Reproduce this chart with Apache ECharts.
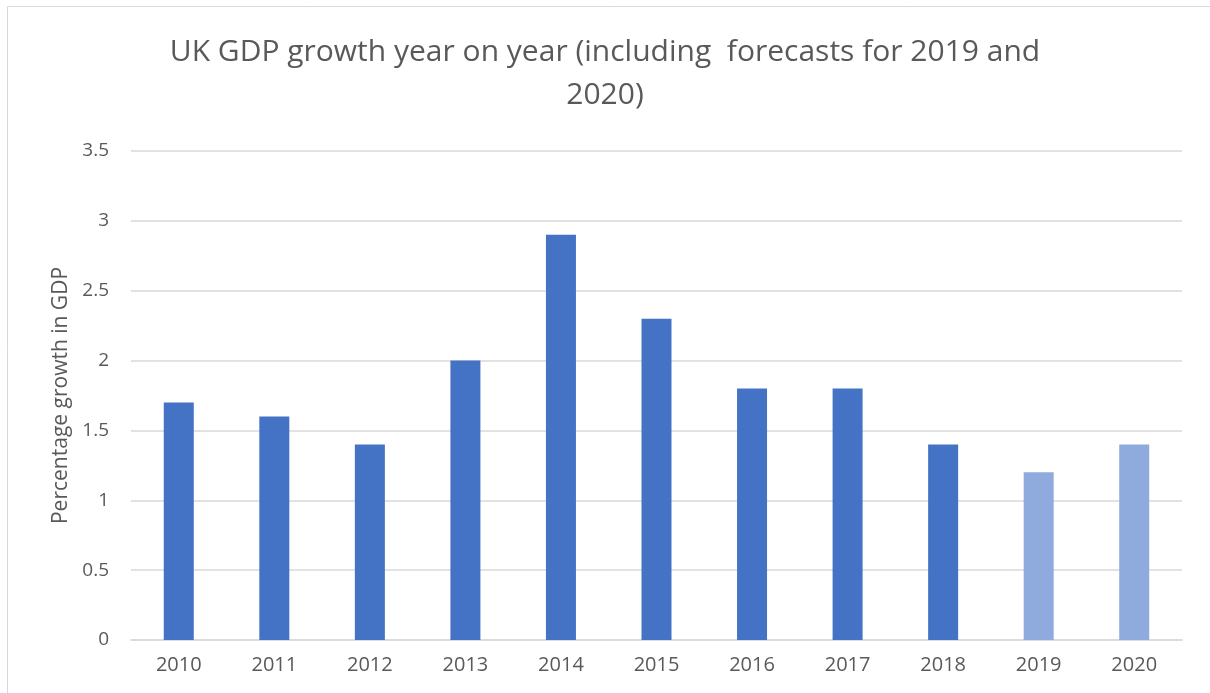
<!DOCTYPE html>
<html>
<head>
<meta charset="utf-8">
<script src="https://cdn.jsdelivr.net/npm/echarts@6/dist/echarts.min.js"></script>
<style>
html,body{margin:0;padding:0;background:#fff;}
#chart{width:1210px;height:693px;}
</style>
</head>
<body>
<div id="chart"></div>
<script>
// 年份
var years = ['2010','2011','2012','2013','2014','2015','2016','2017','2018','2019','2020'];
// GDP增长率(%)
var growth = [1.7, 1.6, 1.4, 2.0, 2.9, 2.3, 1.8, 1.8, 1.4, 1.2, 1.4];
// 预测年份
var forecastYears = ['2019','2020'];

var actualColor = '#4472C4';
var forecastColor = '#8FAADC';
var textColor = '#595959';
var fontFamily = '"Open Sans", sans-serif';

var myChart = echarts.init(document.getElementById('chart'));

var barData = [];
for(var i=0;i<years.length;i++)
{
	var isForecast = forecastYears.indexOf(years[i]) != -1;
	barData.push({value: growth[i], itemStyle: {color: isForecast ? forecastColor : actualColor}});
}

var option = {
	backgroundColor: '#fff',
	animation: false,
	title: {
		text: 'UK GDP growth year on year (including  forecasts for 2019 and\n2020)',
		left: 'center',
		top: 26,
		textStyle: {color: textColor, fontFamily: fontFamily, fontSize: 30, fontWeight: 'normal', lineHeight: 43}
	},
	//外框
	graphic: [{
		type: 'rect',
		shape: {x: 7.5, y: 6.5, width: 1300, height: 800},
		style: {fill: 'none', stroke: '#d9d9d9', lineWidth: 1},
		silent: true
	}],
	grid: {left: 131, right: 28, top: 151, bottom: 53},
	xAxis: {
		type: 'category',
		data: years,
		axisLine: {show: true, lineStyle: {color: '#d9d9d9', width: 1.5}},
		axisTick: {show: false},
		axisLabel: {color: textColor, fontFamily: fontFamily, fontSize: 20, margin: 15}
	},
	yAxis: {
		type: 'value',
		min: 0,
		max: 3.5,
		interval: 0.5,
		name: 'Percentage growth in GDP',
		nameLocation: 'center',
		nameGap: 57,
		nameTextStyle: {color: textColor, fontFamily: fontFamily, fontSize: 21},
		axisLine: {show: false},
		axisTick: {show: false},
		axisLabel: {color: textColor, fontFamily: fontFamily, fontSize: 19, margin: 22},
		splitLine: {lineStyle: {color: '#d9d9d9', width: 1.5}}
	},
	series: [{
		type: 'bar',
		data: barData,
		barWidth: 30
	}]
};
myChart.setOption(option);
</script>
</body>
</html>
